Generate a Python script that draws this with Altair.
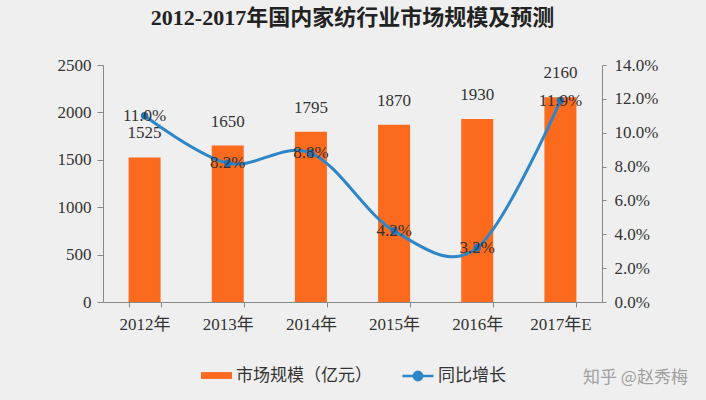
import altair as alt
import pandas as pd

years = ["2012年", "2013年", "2014年", "2015年", "2016年", "2017年E"]
market = [1525, 1650, 1795, 1870, 1930, 2160]
growth = [11.0, 8.2, 8.8, 4.2, 3.2, 11.9]
bar_name = "市场规模（亿元）"
line_name = "同比增长"
title_text = "2012-2017年国内家纺行业市场规模及预测"
credit = "知乎 @赵秀梅"

df = pd.DataFrame({"year": years, "market": market, "growth": growth,
                   "bs": bar_name, "ls": line_name})

ORANGE = "#FC6A1E"
BLUE = "#2E86C8"
NUM_FONT = "Liberation Serif, Noto Sans CJK SC"
CJK_FONT = "Noto Sans CJK SC"

xenc = alt.X("year:N", sort=years, title=None,
             scale=alt.Scale(paddingInner=0.615, paddingOuter=0.3075),
             axis=alt.Axis(labelAngle=0, tickBand="extent", tickSize=5,
                           labelPadding=9, labelFontSize=17, labelFont=NUM_FONT,
                           labelColor="#333333", domainColor="#888888",
                           tickColor="#888888"))

yl = alt.Y("market:Q", title=None, scale=alt.Scale(domain=[0, 2500]),
           axis=alt.Axis(values=[0, 500, 1000, 1500, 2000, 2500], grid=False,
                         format="d",
                         tickSize=6, labelPadding=6, labelFontSize=17,
                         labelFont=NUM_FONT, labelColor="#333333",
                         domainColor="#888888", tickColor="#888888"))

yr = alt.Y("growth:Q", title=None, scale=alt.Scale(domain=[0, 14]),
           axis=alt.Axis(orient="right", values=[0, 2, 4, 6, 8, 10, 12, 14], grid=False,
                         tickSize=4, labelPadding=8, labelFontSize=17, labelFont=NUM_FONT,
                         labelColor="#333333", domainColor="#888888",
                         tickColor="#888888",
                         labelExpr="format(datum.value, '.1f') + '%'"))

base = alt.Chart(df)

bars = base.mark_bar(size=32).encode(
    x=xenc,
    y=yl,
    fill=alt.Fill("bs:N", scale=alt.Scale(domain=[bar_name], range=[ORANGE]),
                  legend=alt.Legend(title=None, orient="none", legendX=97, legendY=294,
                                    symbolType="M-1,-0.22H1V0.22H-1Z", symbolSize=961,
                                    labelFont=CJK_FONT, labelFontSize=17,
                                    labelColor="#333333", labelOffset=3)),
)

bar_text = base.mark_text(baseline="bottom", dy=-15, fontSize=17, font=NUM_FONT,
                          color="#333333").encode(
    x=xenc,
    y=yl,
    text=alt.Text("market:Q"),
)

line = base.mark_line(interpolate="cardinal", strokeWidth=3).encode(
    x=xenc,
    y=yr,
    stroke=alt.Stroke("ls:N", scale=alt.Scale(domain=[line_name], range=[BLUE]),
                      legend=alt.Legend(title=None, orient="none", legendX=298, legendY=294,
                                        symbolType="M-1,0H1M0.27,0A0.27,0.27,0,1,1,-0.27,0A0.27,0.27,0,1,1,0.27,0",
                                        symbolSize=961, symbolStrokeWidth=2.5,
                                        symbolFillColor=BLUE,
                                        labelFont=CJK_FONT, labelFontSize=17,
                                        labelColor="#333333", labelOffset=3)),
)

points = base.mark_point(filled=True, size=55, color="#2673B8", opacity=1).encode(
    x=xenc,
    y=yr,
)

pct_text = base.transform_calculate(
    lbl="format(datum.growth, '.1f') + '%'"
).mark_text(baseline="middle", fontSize=17, font=NUM_FONT, color="#333333").encode(
    x=xenc,
    y=yr,
    text="lbl:N",
)

credit_df = pd.DataFrame({"t": [credit]})
credit_mark = alt.Chart(credit_df).mark_text(align="left", baseline="middle", fontSize=17,
                                             font=CJK_FONT, color="#A0A0A0").encode(
    x=alt.value(480), y=alt.value(313), text="t:N")

left = alt.layer(bars, bar_text)
right = alt.layer(line, points, pct_text)

chart = alt.layer(left, right, credit_mark).resolve_scale(
    y="independent"
).properties(
    width=499, height=237,
    autosize=alt.AutoSizeParams(type="none"),
    padding={"left": 103, "top": 65, "right": 104, "bottom": 98},
    background="#EFEFEF",
    title=alt.TitleParams(title_text, font=NUM_FONT, fontSize=22, fontWeight="bold",
                          color="#222222", anchor="middle", offset=26),
).configure_view(stroke=None)

chart.save("out.html", embed_options={"renderer": "svg", "actions": False})
